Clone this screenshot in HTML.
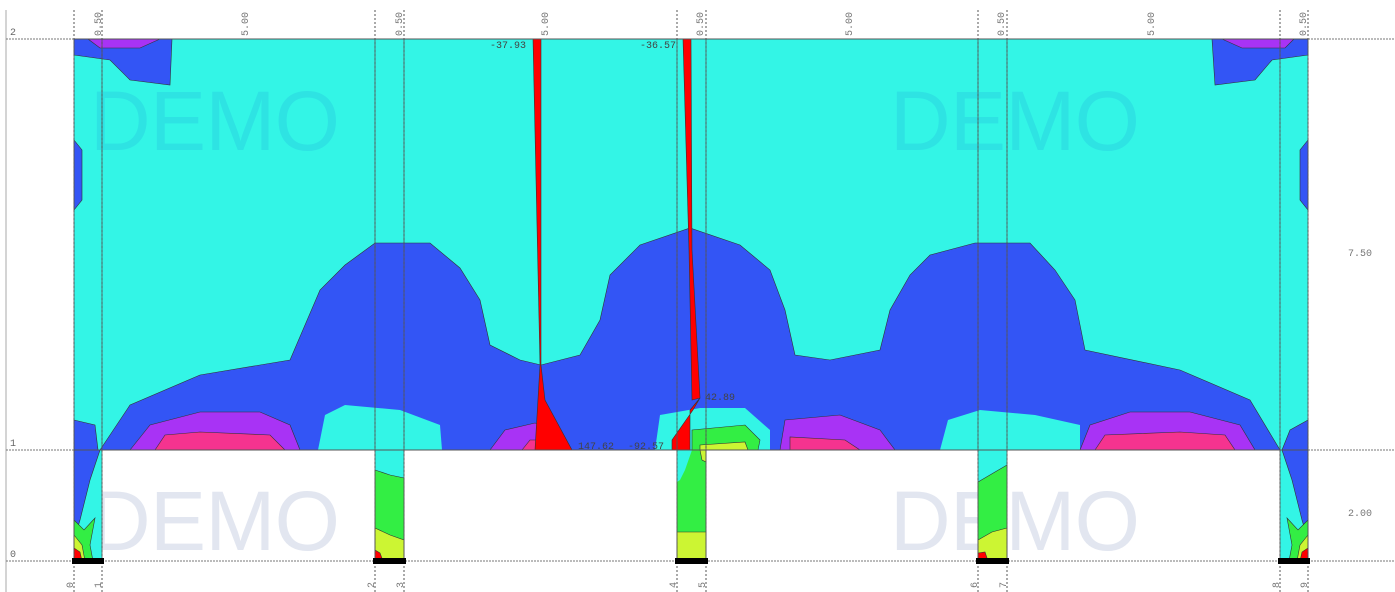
<!DOCTYPE html>
<html><head><meta charset="utf-8"><style>
html,body{margin:0;padding:0;background:#fff;}
svg{display:block;font-family:"Liberation Mono",monospace;}
</style></head><body>
<svg id="chart" width="1395" height="592" viewBox="0 0 1395 592" xmlns="http://www.w3.org/2000/svg">
<rect x="0" y="0" width="1395" height="592" fill="#ffffff"/>
<g id="fills"></g>
<g id="grid"></g>
<g id="labels"></g>
</svg>
<script>
const NS='http://www.w3.org/2000/svg';
const C={cyan:'#33f5e6',blue:'#3355f5',purple:'#a833f5',pink:'#f5338f',green:'#33ee44',yellow:'#ccf533',red:'#ff0000'};
const regions=[
 ['cyan','upper-cyan','74,39 1308,39 1308,450 74,450'],
 ['blue','blue-band','100,450 130,405 200,375 290,360 320,290 345,265 375,243 430,243 460,268 480,300 490,345 520,360 541,365 580,355 600,320 610,275 640,245 690,228 740,245 770,270 785,310 795,355 830,360 880,350 890,310 910,275 930,255 975,243 1030,243 1055,270 1075,300 1085,350 1180,370 1250,400 1280,450'],
 ['cyan','cyan-pocket-2','318,450 325,415 345,405 400,410 440,425 442,450'],
 ['cyan','cyan-pocket-4','655,450 660,415 700,408 745,408 770,430 770,450'],
 ['green','green-pocket-4','692,450 692,430 745,425 760,440 758,450'],
 ['yellow','yellow-pocket-4','700,450 700,445 745,442 748,450'],
 ['cyan','cyan-pocket-6','940,450 948,420 980,410 1035,415 1080,425 1080,450'],
 ['purple','purple-1','130,450 150,425 200,412 260,412 290,425 300,450'],
 ['pink','pink-1','155,450 165,435 200,432 270,435 285,450'],
 ['purple','purple-8','1080,450 1090,425 1130,412 1190,412 1240,425 1255,450'],
 ['pink','pink-8','1095,450 1105,435 1180,432 1225,435 1235,450'],
 ['purple','purple-3','490,450 505,430 535,423 560,430 570,450'],
 ['pink','pink-3','522,450 530,440 545,440 545,450'],
 ['purple','purple-5','780,450 785,420 840,415 880,430 895,450'],
 ['pink','pink-5','790,450 790,437 845,440 860,450'],
 ['blue','blue-top-left','74,39 172,39 170,85 130,80 110,60 74,55'],
 ['purple','purple-top-left','88,39 160,39 140,48 100,48'],
 ['blue','blue-top-right','1212,39 1308,39 1308,55 1272,60 1255,80 1215,85'],
 ['purple','purple-top-right','1222,39 1294,39 1285,48 1242,48'],
 ['blue','blue-sliver-left','74,140 82,150 82,200 74,210'],
 ['blue','blue-sliver-right','1308,140 1300,150 1300,200 1308,210'],
 ['blue','blue-edge-left','74,420 95,425 98,450 74,450'],
 ['blue','blue-edge-right','1308,420 1290,430 1282,450 1308,450'],
 ['cyan','col0-cyan','74,450 102,450 102,561 74,561'],
 ['blue','col0-blue','74,450 100,450 90,480 80,520 74,540'],
 ['green','col0-green','74,520 84,530 95,518 90,545 93,561 74,561'],
 ['yellow','col0-yellow','74,535 82,545 85,561 74,561'],
 ['red','col0-red','74,548 80,552 82,561 74,561'],
 ['cyan','col2-cyan','375,450 404,450 404,561 375,561'],
 ['green','col2-green','375,470 390,475 404,478 404,561 375,561'],
 ['yellow','col2-yellow','375,528 390,535 404,540 404,561 375,561'],
 ['red','col2-red','375,550 380,553 383,561 375,561'],
 ['green','col4-green','677,450 706,450 706,561 677,561'],
 ['cyan','col4-cyan','677,450 692,450 685,470 680,480 677,482'],
 ['yellow','col4-yellow','677,532 706,532 706,561 677,561'],
 ['yellow','col4-yellow-top','700,450 706,450 706,462 702,460'],
 ['cyan','col6-cyan','978,450 1007,450 1007,561 978,561'],
 ['green','col6-green','978,482 995,472 1007,465 1007,561 978,561'],
 ['yellow','col6-yellow','978,540 992,532 1007,528 1007,561 978,561'],
 ['red','col6-red','978,553 985,552 988,561 978,561'],
 ['cyan','col8-cyan','1280,450 1308,450 1308,561 1280,561'],
 ['blue','col8-blue','1282,450 1308,450 1308,540 1302,520 1292,480'],
 ['green','col8-green','1308,520 1298,530 1287,518 1292,545 1289,561 1308,561'],
 ['yellow','col8-yellow','1308,535 1300,545 1297,561 1308,561'],
 ['red','col8-red','1308,548 1302,552 1300,561 1308,561'],
 ['red','red-wedge-3','533,39 541,39 541,365 545,400 572,450 535,450 540,365'],
 ['red','red-wedge-4','683,39 691,39 692,250 700,398 692,400 689,250'],
 ['red','red-wedge-4b','700,398 693,410 672,440 672,450 690,450 690,410'],
];
const fills=document.getElementById('fills');
const wm=[[90,150,'#2ee3e3'],[890,150,'#2ee3e3'],[90,550,'#e2e6f0'],[890,550,'#e2e6f0']];
regions.forEach((r,i)=>{
 const p=document.createElementNS(NS,'polygon');
 p.setAttribute('points',r[2]);
 p.setAttribute('fill',C[r[0]]);
 p.setAttribute('stroke',r[0]==='cyan'&&i<24?'none':'#333');
 if(r[0]==='cyan')p.setAttribute('stroke','none');
 p.setAttribute('stroke-width','0.6');
 
 
 fills.appendChild(p);
 if(i===0){
  for(const w of wm){
   const t=document.createElementNS(NS,'text');
   t.setAttribute('x',w[0]);t.setAttribute('y',w[1]);
   t.setAttribute('fill',w[2]);t.setAttribute('font-family','Liberation Sans, sans-serif');
   t.setAttribute('font-size','84');t.setAttribute('textLength','250');
   t.textContent='DEMO';
   
   
   fills.appendChild(t);
  }
 }
});
const grid=document.getElementById('grid');
function line(x1,y1,x2,y2,col,dash,w,name){
 const l=document.createElementNS(NS,'line');
 l.setAttribute('x1',x1);l.setAttribute('y1',y1);l.setAttribute('x2',x2);l.setAttribute('y2',y2);
 l.setAttribute('stroke',col);l.setAttribute('stroke-width',w||1);
 if(dash)l.setAttribute('stroke-dasharray',dash);
 
 
 grid.appendChild(l);
}
const colX=[74,102,375,404,677,706,978,1007,1280,1308];
const rowY=[561,450,39];
const rowLabels=['0','1','2'];
line(6,10,6,592,'#aaa',null,1,'left-border');
for(const y of rowY) line(6,y,1395,y,'#777','2,1',1,'row-gridline');
for(const x of colX) line(x,10,x,592,'#555','2,2',1,'column-gridline');
line(74,39,1308,39,'#555',null,1,'top-edge');
line(74,450,1308,450,'#555',null,1,'beam-edge');
for(const x of colX) line(x,39,x,561,'#555',null,0.8,'member-edge');
for(let i=0;i<colX.length;i+=2) line(colX[i]-2,561,colX[i+1]+2,561,'#000',null,6,'support-bar');
const lab=document.getElementById('labels');
function text(x,y,s,size,col,rot,anchor,name){
 const t=document.createElementNS(NS,'text');
 t.setAttribute('x',x);t.setAttribute('y',y);t.setAttribute('font-size',size);
 t.setAttribute('fill',col);
 if(anchor)t.setAttribute('text-anchor',anchor);
 if(rot)t.setAttribute('transform','rotate('+rot+' '+x+' '+y+')');
 t.textContent=s;
 
 
 lab.appendChild(t);
}
rowY.forEach((y,i)=>text(10,y-4,rowLabels[i],10,'#666',0,null,'row-label'));
const topLbl=['0.50','5.00','0.50','5.00','0.50','5.00','0.50','5.00','0.50'];
const topLblX=[101,248,402,548,703,852,1004,1154,1306];
topLbl.forEach((s,i)=>text(topLblX[i],36,s,10,'#777',-90,null,'span-label'));
colX.forEach((x,i)=>text(x-1,588,String(i),10,'#777',-90,null,'node-label'));
text(1348,256,'7.50',10,'#777',0,null,'height-label');
text(1348,516,'2.00',10,'#777',0,null,'height-label');
text(490,48,'-37.93',10,'#444',0,null,'value-label');
text(640,48,'-36.57',10,'#444',0,null,'value-label');
text(705,400,'42.89',10,'#444',0,null,'value-label');
text(578,449,'147.62',10,'#444',0,null,'value-label');
text(628,449,'-92.57',10,'#444',0,null,'value-label');
</script>
</body></html>
